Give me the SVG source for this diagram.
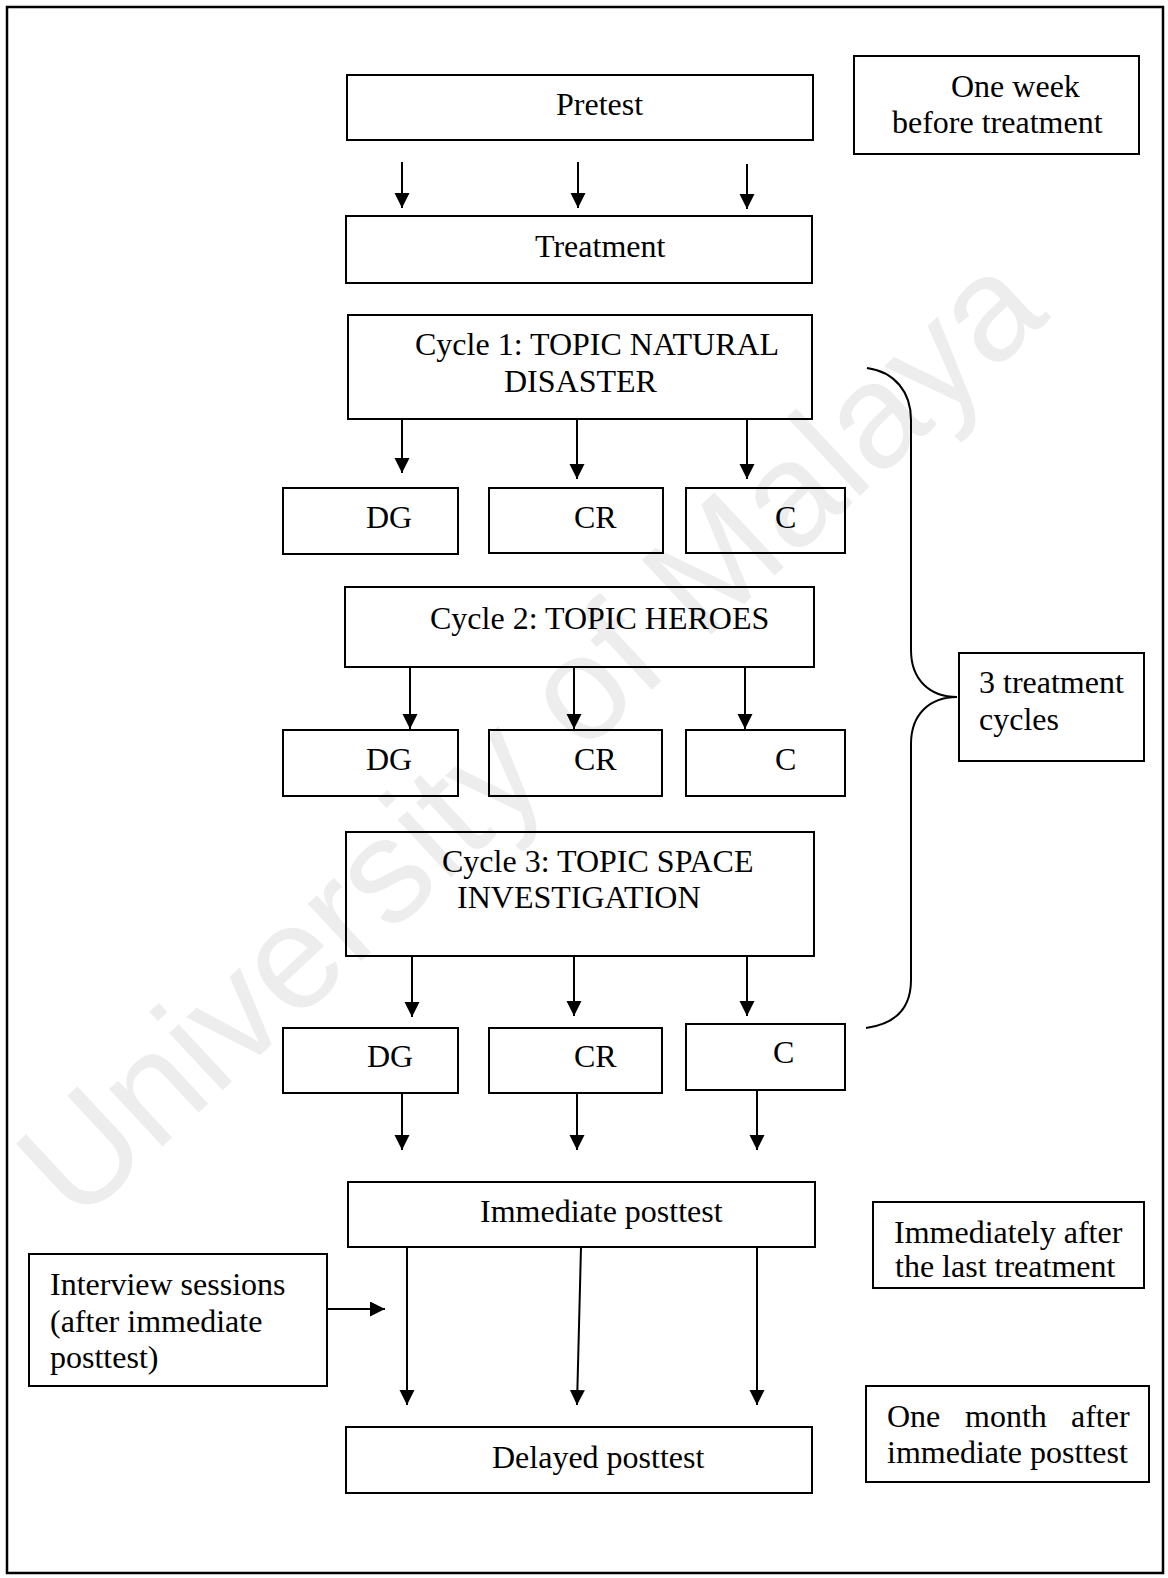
<svg xmlns="http://www.w3.org/2000/svg" width="1168" height="1578" viewBox="0 0 1168 1578">
<defs>
<style>
.bx{fill:none;stroke:#000;stroke-width:2}
.t{font-family:"Liberation Serif","Times New Roman",serif;font-size:32px;fill:#000}
.ar{fill:none;stroke:#000;stroke-width:2;marker-end:url(#ah)}
.wm{font-family:"Liberation Sans",Arial,sans-serif;font-size:148px;fill:#ededed}
</style>
<marker id="ah" markerUnits="userSpaceOnUse" markerWidth="16" markerHeight="16" refX="15" refY="7.5" orient="auto" viewBox="0 0 16 16">
<path d="M0,0 L15,7.5 L0,15 z" fill="#000"/>
</marker>
</defs>
<rect width="1168" height="1578" fill="#fff"/>
<text class="wm" x="528" y="786" text-anchor="middle" transform="rotate(-43 528 733)">University of Malaya</text>
<rect x="7" y="7" width="1156" height="1566" fill="none" stroke="#000" stroke-width="2.5"/>

<g id="pretest"><rect class="bx" x="347" y="75" width="466" height="65"/><text class="t" x="556" y="115">Pretest</text></g>
<g id="one-week"><rect class="bx" x="854" y="56" width="285" height="98"/><text class="t" x="951" y="97">One week</text><text class="t" x="892" y="133">before treatment</text></g>
<g id="treatment"><rect class="bx" x="346" y="216" width="466" height="67"/><text class="t" x="535" y="257">Treatment</text></g>
<g id="cycle1"><rect class="bx" x="348" y="315" width="464" height="104"/><text class="t" x="415" y="355">Cycle 1: TOPIC NATURAL</text><text class="t" x="504" y="392">DISASTER</text></g>
<g id="dg1"><rect class="bx" x="283" y="488" width="175" height="66"/><text class="t" x="366" y="528">DG</text></g>
<g id="cr1"><rect class="bx" x="489" y="488" width="174" height="65"/><text class="t" x="574" y="528">CR</text></g>
<g id="c1"><rect class="bx" x="686" y="488" width="159" height="65"/><text class="t" x="775" y="528">C</text></g>
<g id="cycle2"><rect class="bx" x="345" y="587" width="469" height="80"/><text class="t" x="430" y="629">Cycle 2: TOPIC HEROES</text></g>
<g id="dg2"><rect class="bx" x="283" y="730" width="175" height="66"/><text class="t" x="366" y="770">DG</text></g>
<g id="cr2"><rect class="bx" x="489" y="730" width="173" height="66"/><text class="t" x="574" y="770">CR</text></g>
<g id="c2"><rect class="bx" x="686" y="730" width="159" height="66"/><text class="t" x="775" y="770">C</text></g>
<g id="cycle3"><rect class="bx" x="346" y="832" width="468" height="124"/><text class="t" x="442" y="872">Cycle 3: TOPIC SPACE</text><text class="t" x="457" y="908">INVESTIGATION</text></g>
<g id="dg3"><rect class="bx" x="283" y="1028" width="175" height="65"/><text class="t" x="367" y="1067">DG</text></g>
<g id="cr3"><rect class="bx" x="489" y="1028" width="173" height="65"/><text class="t" x="574" y="1067">CR</text></g>
<g id="c3"><rect class="bx" x="686" y="1024" width="159" height="66"/><text class="t" x="773" y="1063">C</text></g>
<g id="three-cycles"><rect class="bx" x="959" y="653" width="185" height="108"/><text class="t" x="979" y="693">3 treatment</text><text class="t" x="979" y="730">cycles</text></g>
<g id="immediate"><rect class="bx" x="348" y="1182" width="467" height="65"/><text class="t" x="480" y="1222">Immediate posttest</text></g>
<g id="immediately-after"><rect class="bx" x="873" y="1202" width="271" height="86"/><text class="t" x="894" y="1243">Immediately after</text><text class="t" x="895" y="1277">the last treatment</text></g>
<g id="interview"><rect class="bx" x="29" y="1254" width="298" height="132"/><text class="t" x="50" y="1295">Interview sessions</text><text class="t" x="50" y="1332">(after immediate</text><text class="t" x="50" y="1368">posttest)</text></g>
<g id="delayed"><rect class="bx" x="346" y="1427" width="466" height="66"/><text class="t" x="492" y="1468">Delayed posttest</text></g>
<g id="one-month"><rect class="bx" x="866" y="1386" width="283" height="96"/><text class="t" y="1427"><tspan x="887">One</tspan><tspan x="965">month</tspan><tspan x="1071">after</tspan></text><text class="t" x="887" y="1463">immediate posttest</text></g>

<g id="connectors">
<path class="ar" d="M402,162 V208"/>
<path class="ar" d="M578,162 V208"/>
<path class="ar" d="M747,164 V209"/>
<path class="ar" d="M402,419 V473"/>
<path class="ar" d="M577,419 V479"/>
<path class="ar" d="M747,419 V479"/>
<path class="ar" d="M410,667 V729"/>
<path class="ar" d="M574,667 V729"/>
<path class="ar" d="M745,667 V729"/>
<path class="ar" d="M412,956 V1017"/>
<path class="ar" d="M574,956 V1016"/>
<path class="ar" d="M747,956 V1016"/>
<path class="ar" d="M402,1093 V1150"/>
<path class="ar" d="M577,1093 V1150"/>
<path class="ar" d="M757,1090 V1150"/>
<path class="ar" d="M407,1247 V1405"/>
<path class="ar" d="M581,1247 L577,1405"/>
<path class="ar" d="M757,1247 V1405"/>
<path class="ar" d="M327,1309 H385"/>
<path d="M867,368 C895,372 911,392 911,420 L911,650 C911,680 930,697 957,697 C930,697 911,714 911,744 L911,980 C911,1008 895,1024 866,1028" fill="none" stroke="#000" stroke-width="2"/>
</g>
</svg>
